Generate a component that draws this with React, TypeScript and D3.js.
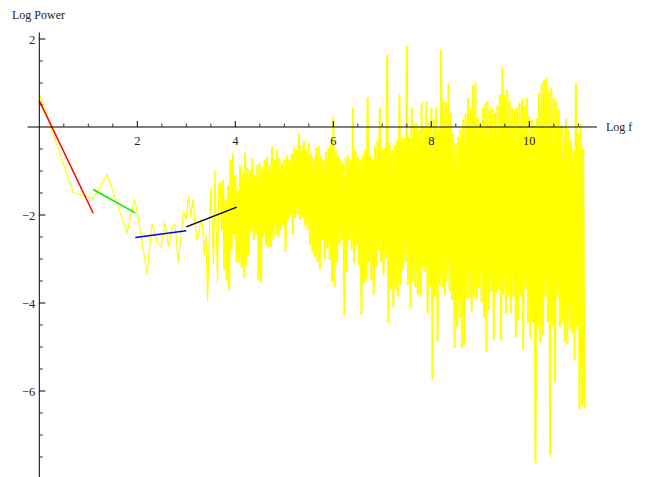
import React from "react";
import * as d3 from "d3";

const W = 647;
const H = 477;

// Log power of the first forty harmonics, k = 1..40, plotted at log f = ln k
const lowPower = [
  0.77, -1.49, -1.62, -1.08, -1.83, -2.4, -1.64, -2.47, -3.34, -2.2,
  -2.59, -2.72, -2.17, -2.72, -2.27, -2.2, -3.07, -2.5, -1.91, -2.11,
  -1.58, -2.04, -1.64, -2.2, -2.57, -2.41, -2.1, -2.25, -2.9, -2.45,
  -3.97, -2.6, -1.39, -2.2, -3.1, -0.98, -2.3, -3.55, -1.27, -1.6,
];

// Beyond that the harmonics crowd together: for each slice of log f
// (width bandStep, starting at bandStart) the highest and lowest log power
const bandStart = 3.7;
const bandStep = 0.05;
const bandHigh = [
  -1.27, -1.2, -1.66, -1.32, -0.75, -0.59, -1.09, -1.43, -0.86, -1.05,
  -0.59, -0.93, -0.98, -0.7, -1.09, -0.86, -0.82, -0.91, -0.75, -0.68,
  -0.86, -0.45, -0.75, -0.52, -0.7, -0.82, -0.75, -0.64, -0.75, -0.59,
  -0.45, -0.52, -0.14, -0.41, -0.3, -0.52, -0.36, -0.59, -0.68, -0.48,
  -0.43, -0.64, -0.75, -0.57, -0.48, -0.36, 0.23, -0.52, -0.64, -0.75,
  -0.82, -0.7, -0.64, -0.75, 0.43, -0.52, -0.64, -0.75, -0.64, -0.52,
  0.68, -0.64, -0.75, -0.45, -0.3, 0.45, -0.52, -0.48, 1.64, -0.36,
  -0.52, -0.41, -0.3, 0.73, -0.23, -0.25, 1.84, -0.23, 0.45, 0.09,
  0.09, -0.07, 0.55, 0.0, 0.59, 0.09, 0.43, 0.16, 0.45, -0.07,
  1.75, 0.59, 0.57, 1.0, 0.32, -0.14, -0.36, -0.23, -0.07, 0.16,
  0.32, 0.66, 0.45, 0.95, 1.02, 0.2, 0.09, 0.43, 0.55, 0.59,
  0.39, 0.43, 0.32, 0.5, 0.73, 1.36, 0.73, 0.84, 0.61, 0.43,
  0.41, 0.45, 0.55, 0.64, 0.5, 0.66, 0.27, 0.16, 0.05, 0.2,
  0.77, 1.0, 1.07, 1.11, 0.8, 0.89, 0.66, 0.57, 0.39, 0.05,
  0.0, 0.18, -0.07, -0.3, -0.52, 1.0, -0.14, 0.09, -0.48,
];
const bandLow = [
  -2.34, -3.25, -3.48, -3.7, -2.8, -2.45, -3.09, -3.07, -3.2, -3.43,
  -3.14, -2.91, -2.39, -2.57, -2.45, -3.48, -3.52, -2.52, -2.68, -2.73,
  -2.73, -2.57, -2.45, -2.52, -2.34, -2.23, -2.84, -2.11, -2.0, -2.45,
  -2.07, -2.0, -2.11, -2.07, -2.23, -2.34, -2.68, -2.86, -2.95, -3.07,
  -3.25, -2.57, -3.02, -2.75, -3.02, -3.52, -3.64, -3.09, -2.68, -2.57,
  -4.27, -3.3, -2.57, -2.8, -3.09, -2.68, -3.14, -4.27, -3.55, -3.48,
  -3.07, -3.48, -3.82, -3.18, -2.8, -3.07, -3.36, -2.98, -4.45, -3.7,
  -4.11, -3.7, -3.86, -3.59, -3.25, -3.07, -3.59, -4.11, -3.52, -3.64,
  -3.82, -3.86, -3.2, -3.3, -4.23, -3.64, -5.75, -3.86, -4.89, -3.59,
  -3.64, -3.82, -3.52, -3.75, -3.93, -5.02, -4.55, -4.34, -5.02, -4.95,
  -3.89, -3.93, -4.2, -3.86, -3.93, -3.66, -4.0, -4.34, -5.11, -4.16,
  -3.75, -4.84, -3.77, -3.7, -4.84, -3.82, -4.23, -3.86, -4.23, -3.86,
  -4.77, -4.39, -3.86, -5.07, -3.7, -4.45, -4.8, -4.45, -7.64, -4.55,
  -4.89, -4.73, -3.86, -4.43, -7.45, -4.5, -5.8, -3.86, -4.55, -4.45,
  -4.89, -4.95, -4.61, -4.68, -5.3, -4.55, -6.43, -6.32, -6.39,
];

// Straight-line fits over successive stretches of log f
const fitColors = ["#ff0000", "#00ee00", "#0000ff", "#000000"];
const fitFrom = [0.0, 1.1, 1.96, 3.0];
const fitTo = [1.1, 1.96, 3.0, 4.03];
const fitStartPower = [0.6, -1.42, -2.51, -2.27];
const fitEndPower = [-1.96, -1.95, -2.36, -1.82];

const xMajor = [2, 4, 6, 8, 10];
const yMajor = [2, -2, -4, -6];
const xMin = -0.24;
const xMax = 11.38;
const yTop = 2.15;
const yBottom = -8;

export default function App() {
  const x = d3.scaleLinear().domain([0, 10]).range([39.3, 529.3]);
  const y = d3.scaleLinear().domain([0, -6]).range([127, 391]);

  const early: [number, number][] = lowPower.map((p, i) => [Math.log(i + 1), p]);
  const band: [number, number][] = [early[early.length - 1]];
  bandHigh.forEach((hi, i) => {
    const f = bandStart + i * bandStep;
    band.push([f, hi]);
    band.push([f + bandStep / 2, bandLow[i]]);
  });

  const line = d3
    .line<[number, number]>()
    .x((d) => x(d[0]))
    .y((d) => y(d[1]));

  const xMinor = d3.range(0.5, 11.01, 0.5).filter((v) => v % 2 !== 0);
  const yMinor = d3
    .range(2, -7.51, -0.5)
    .filter((v) => v !== 0 && !yMajor.includes(v));

  const font = "'Liberation Serif', 'Times New Roman', serif";
  const tickColor = "#333";

  return (
    <svg
      width={W}
      height={H}
      style={{ position: "absolute", left: 0, top: 0, background: "#fff" }}
    >
      <path d={line(early) ?? ""} fill="none" stroke="#ffff00" strokeWidth={1.2} />
      <path d={line(band) ?? ""} fill="none" stroke="#ffff00" strokeWidth={2} />
      {fitColors.map((c, i) => (
        <line
          key={c}
          x1={x(fitFrom[i])}
          x2={x(fitTo[i])}
          y1={y(fitStartPower[i])}
          y2={y(fitEndPower[i])}
          stroke={c}
          strokeWidth={1.5}
        />
      ))}

      {/* axes */}
      <line x1={x(xMin)} x2={x(xMax)} y1={y(0)} y2={y(0)} stroke="#000" strokeWidth={1} />
      <line x1={x(0)} x2={x(0)} y1={y(yTop)} y2={y(yBottom)} stroke="#000" strokeWidth={1} />

      {xMinor.map((v) => (
        <line key={"xm" + v} x1={x(v)} x2={x(v)} y1={y(0)} y2={y(0) - 3.5} stroke={tickColor} />
      ))}
      {xMajor.map((v) => (
        <g key={"xM" + v}>
          <line x1={x(v)} x2={x(v)} y1={y(0)} y2={y(0) - 6} stroke="#000" />
          <text
            x={x(v)}
            y={y(0) + 18}
            textAnchor="middle"
            fontFamily={font}
            fontSize={12.5}
            fill="#222"
          >
            {v}
          </text>
        </g>
      ))}

      {yMinor.map((v) => (
        <line key={"ym" + v} x1={x(0)} x2={x(0) + 3.5} y1={y(v)} y2={y(v)} stroke={tickColor} />
      ))}
      {yMajor.map((v) => (
        <g key={"yM" + v}>
          <line x1={x(0)} x2={x(0) + 6} y1={y(v)} y2={y(v)} stroke="#000" />
          <text
            x={x(0) - 4}
            y={y(v) + 4.5}
            textAnchor="end"
            fontFamily={font}
            fontSize={12.5}
            fill="#222"
          >
            {v < 0 ? "\u2212" + Math.abs(v) : String(v)}
          </text>
        </g>
      ))}

      <text x={12} y={18.5} fontFamily={font} fontSize={12} fill="#222">
        Log Power
      </text>
      <text x={606} y={131} fontFamily={font} fontSize={12} fill="#222">
        Log f
      </text>
    </svg>
  );
}
